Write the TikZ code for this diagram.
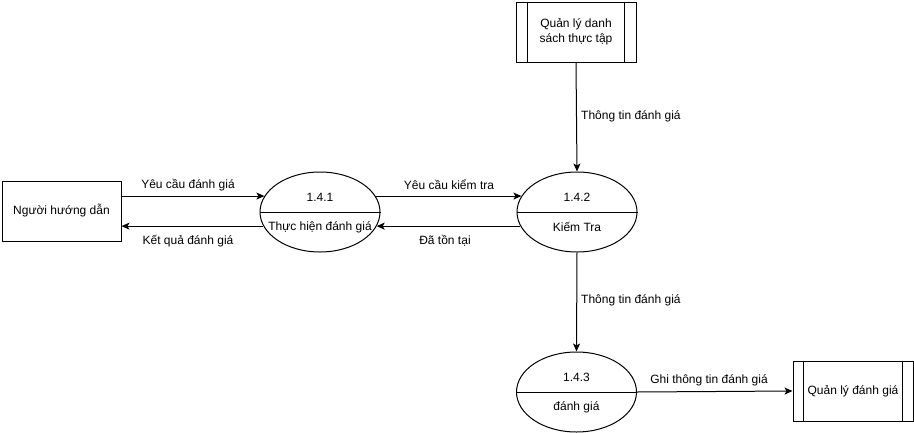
\documentclass[tikz,border=0pt]{standalone}
\usepackage{fontspec}
\setmainfont{Liberation Sans}
\usetikzlibrary{shapes.geometric,arrows.meta}
\begin{document}
\begin{tikzpicture}[x=1pt,y=-1pt,
  every node/.style={font=\fontsize{12}{14.5}\selectfont},
  entity/.style={draw,line width=1pt,minimum width=119pt,minimum height=60pt,inner sep=0pt},
  store/.style={draw,line width=1pt,minimum width=120pt,minimum height=60pt,inner sep=0pt,align=center},
  proc/.style={draw,line width=1pt,ellipse,minimum width=120pt,minimum height=80pt,inner sep=0pt},
  arr/.style={line width=1pt,-{Stealth[length=8pt,width=7pt,inset=2pt]}},
  lbl/.style={inner sep=1pt}]
\useasboundingbox (0,0) rectangle (914,432);
% nodes
\node[entity] (n1) at (61.5,211) {Người hướng dẫn};
\node[store] (s1) at (576,32) {Quản lý danh\\sách thực tập};
\node[store] (s2) at (853,391) {Quản lý đánh giá};
\node[proc] (e1) at (320,212) {};
\node[proc] (e2) at (577,212) {};
\node[proc] (e3) at (576.5,392) {};
% store inner lines
\draw[line width=1pt] ([xshift=12pt]s1.north west) -- ([xshift=12pt]s1.south west);
\draw[line width=1pt] ([xshift=-12pt]s1.north east) -- ([xshift=-12pt]s1.south east);
\draw[line width=1pt] ([xshift=11pt]s2.north west) -- ([xshift=11pt]s2.south west);
\draw[line width=1pt] ([xshift=-11pt]s2.north east) -- ([xshift=-11pt]s2.south east);
% ellipse dividers and texts
\foreach \e/\num/\txt in {e1/1.4.1/Thực hiện đánh giá, e2/1.4.2/Kiếm Tra, e3/1.4.3/đánh giá}{
  \draw[line width=1pt] (\e.west) -- (\e.east);
  \node[lbl] (\e num) at ([yshift=15pt]\e.center) {\num};
  \node[lbl] (\e txt) at ([yshift=-15pt]\e.center) {\txt};
}
% connectors
\draw[arr] (e1.164 -| n1.east) -- (e1.164);
\draw[arr] (e1.194) -- (e1.194 -| n1.east);
\draw[arr] (e1.16) -- (e2.164);
\draw[arr] (e2.194) -- (e1.346);
\draw[arr] (s1.south) -- (e2.north);
\draw[arr] (e2.south) -- (e3.north);
\draw[arr] (e3.east) -- (s2.west);
% labels
\node[lbl] (l1) at (188,185) {Yêu cầu đánh giá};
\node[lbl] (l2) at (188,241) {Kết quả đánh giá};
\node[lbl] (l3) at (449,185) {Yêu cầu kiểm tra};
\node[lbl] (l4) at (445,241) {Đã tồn tại};
\node[lbl,anchor=west] (l5) at (580,116) {Thông tin đánh giá};
\node[lbl,anchor=west] (l6) at (580,300) {Thông tin đánh giá};
\node[lbl] (l7) at (709,380) {Ghi thông tin đánh giá};
\end{tikzpicture}
\end{document}
